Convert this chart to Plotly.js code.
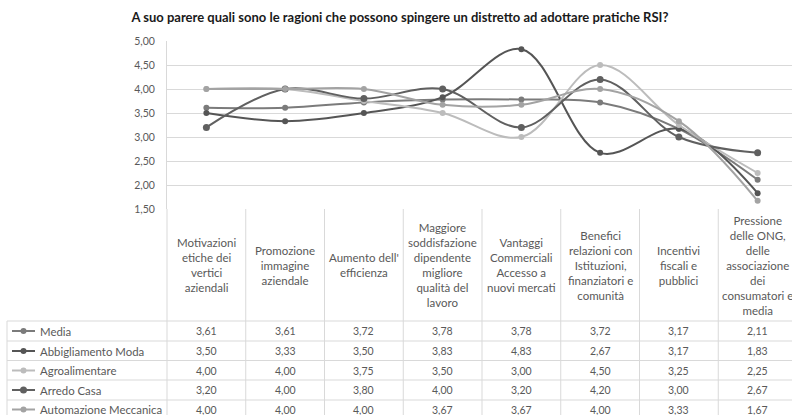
<!DOCTYPE html>
<html><head><meta charset="utf-8">
<script src="https://cdn.plot.ly/plotly-3.0.1.min.js"></script>
<style>html,body{margin:0;padding:0;overflow:hidden;background:#fff}</style>
</head><body><div id="chart" style="width:800px;height:415px"></div>
<script>
// ---- data ----
const categories = [
  "Motivazioni<br>etiche dei<br>vertici<br>aziendali",
  "Promozione<br>immagine<br>aziendale",
  "Aumento dell'<br>efficienza",
  "Maggiore<br>soddisfazione<br>dipendente<br>migliore<br>qualità del<br>lavoro",
  "Vantaggi<br>Commerciali<br>Accesso a<br>nuovi mercati",
  "Benefici<br>relazioni con<br>Istituzioni,<br>finanziatori e<br>comunità",
  "Incentivi<br>fiscali e<br>pubblici",
  "Pressione<br>delle ONG,<br>delle<br>associazione<br>dei<br>consumatori e<br>media"
];
const seriesNames = ["Media", "Abbigliamento Moda", "Agroalimentare", "Arredo Casa", "Automazione Meccanica"];
const media        = [3.61, 3.61, 3.72, 3.78, 3.78, 3.72, 3.17, 2.11];
const abbigliamento = [3.50, 3.33, 3.50, 3.83, 4.83, 2.67, 3.17, 1.83];
const agroalimentare = [4.00, 4.00, 3.75, 3.50, 3.00, 4.50, 3.25, 2.25];
const arredoCasa   = [3.20, 4.00, 3.80, 4.00, 3.20, 4.20, 3.00, 2.67];
const automazione  = [4.00, 4.00, 4.00, 3.67, 3.67, 4.00, 3.33, 1.67];
const yTicks = [1.5, 2.0, 2.5, 3.0, 3.5, 4.0, 4.5, 5.0];
const titleText = "A suo parere quali sono le ragioni che possono spingere un distretto ad adottare pratiche RSI?";

// ---- styles ----
const seriesValues = [media, abbigliamento, agroalimentare, arredoCasa, automazione];
const colors = ["#7b7b7b", "#555555", "#bcbcbc", "#606060", "#a3a3a3"];
const markerSizes = [6, 6, 6, 7, 6];
const FONT = "Lato, 'Open Sans', sans-serif";
const TXT = "#595959";
const GRID = "#d9d9d9";

const W = 800, H = 415, L = 167, T = 41, PW = 630, PH = 168;
const B = H - T - PH; // 206
const bottomPx = T + PH; // 209
const py = p => (bottomPx - p) / PH;   // pixel y -> paper y
const px = p => (p - L) / PW;          // pixel x -> paper x

const xIdx = categories.map((_, i) => i);

const traces = seriesValues.map((vals, s) => ({
  type: "scatter", mode: "lines+markers",
  x: xIdx, y: vals, name: seriesNames[s],
  line: {color: colors[s], width: 2, shape: "spline", smoothing: 1},
  marker: {color: colors[s], size: markerSizes[s]},
  showlegend: false, hoverinfo: "skip"
}));

const shapes = [];
const annotations = [];
const rowLines = [321, 341, 360.5, 380, 400];
const rowCenters = [331, 351, 370.5, 390, 409.5];

// horizontal table lines
rowLines.forEach(y => shapes.push({type: "line", xref: "paper", yref: "paper",
  x0: px(7), x1: px(W), y0: py(y), y1: py(y), line: {color: GRID, width: 1}}));
// vertical column lines
for (let k = 0; k <= categories.length; k++) {
  shapes.push({type: "line", xref: "paper", yref: "paper",
    x0: k / categories.length, x1: k / categories.length, y0: 0, y1: py(H + 5),
    line: {color: GRID, width: 1}});
}
// left border of legend column
shapes.push({type: "line", xref: "paper", yref: "paper",
  x0: px(7), x1: px(7), y0: py(321), y1: py(H + 5), line: {color: GRID, width: 1}});

// category header labels
categories.forEach((c, i) => annotations.push({
  xref: "x", yref: "paper", x: i, y: py(265), text: c, showarrow: false,
  xanchor: "center", yanchor: "middle", align: "center",
  font: {family: FONT, size: 11.5, color: TXT}
}));

// values and legend keys
const fmt = v => v.toFixed(2).replace(".", ",");
seriesValues.forEach((vals, s) => {
  const yc = py(rowCenters[s]);
  vals.forEach((v, i) => annotations.push({
    xref: "x", yref: "paper", x: i, y: yc, text: fmt(v), showarrow: false,
    xanchor: "center", yanchor: "middle",
    font: {family: FONT, size: 10.5, color: TXT}
  }));
  annotations.push({
    xref: "paper", yref: "paper", x: px(38), y: yc, text: seriesNames[s], showarrow: false,
    xanchor: "left", yanchor: "middle",
    font: {family: FONT, size: 11.4, color: TXT}
  });
  shapes.push({type: "line", xref: "paper", yref: "paper",
    x0: px(12), x1: px(35), y0: yc, y1: yc, line: {color: colors[s], width: 2}});
  const r = markerSizes[s] / 2;
  shapes.push({type: "circle", xref: "paper", yref: "paper",
    x0: px(23.5 - r), x1: px(23.5 + r), y0: yc - r / PH, y1: yc + r / PH,
    fillcolor: colors[s], line: {color: colors[s], width: 0}});
});

const layout = {
  width: W, height: H,
  margin: {l: L, r: W - L - PW, t: T, b: B, pad: 0},
  paper_bgcolor: "#fff", plot_bgcolor: "#fff",
  separators: ",.",
  title: {text: "<b>" + titleText + "</b>", x: 0.5, xref: "container", xanchor: "center",
          y: 1 - 17 / H, yref: "container", yanchor: "middle",
          font: {family: FONT, size: 13, color: "#1a1a1a"}},
  xaxis: {range: [-0.5, categories.length - 0.5], showgrid: false, zeroline: false,
          showticklabels: false, ticks: "", showline: false, fixedrange: true},
  yaxis: {range: [1.5, 5.0], tickvals: yTicks, tickformat: ".2f", showgrid: true,
          gridcolor: GRID, gridwidth: 1, zeroline: false, showline: true, linecolor: GRID,
          ticks: "", ticklabelstandoff: 9,
          tickfont: {family: FONT, size: 10.5, color: TXT}, fixedrange: true},
  shapes: shapes, annotations: annotations, showlegend: false
};

Plotly.newPlot("chart", traces, layout, {displayModeBar: false, staticPlot: true});
</script></body></html>
